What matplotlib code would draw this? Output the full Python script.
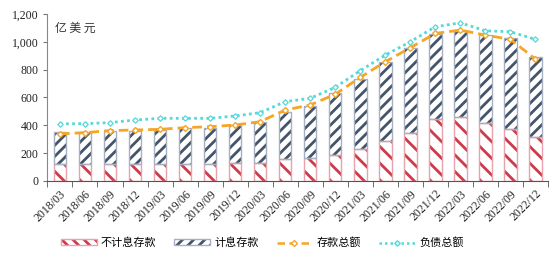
import matplotlib
matplotlib.use('Agg')
from matplotlib import pyplot as plt
from matplotlib.ticker import FuncFormatter, FixedLocator
from matplotlib.patches import Patch
from matplotlib.lines import Line2D
from matplotlib.legend_handler import HandlerTuple
import numpy as np

plt.rcParams['font.family'] = ['Liberation Serif', 'Noto Sans CJK SC']
plt.rcParams['hatch.linewidth'] = 2.0

quarters = ['2018/03', '2018/06', '2018/09', '2018/12', '2019/03', '2019/06', '2019/09', '2019/12',
            '2020/03', '2020/06', '2020/09', '2020/12', '2021/03', '2021/06', '2021/09', '2021/12',
            '2022/03', '2022/06', '2022/09', '2022/12']
# 不计息存款
non_interest = [120, 120, 122, 118, 118, 122, 118, 127, 132, 156,
                168, 187, 228, 287, 343, 446, 462, 415, 374, 316]
# 存款合计(柱高)
bar_total = [350, 350, 359, 359, 366, 378, 383, 402, 426, 498,
             540, 630, 733, 857, 953, 1058, 1080, 1049, 1030, 889]
interest = [t - n for t, n in zip(bar_total, non_interest)]
# 存款总额
deposits = [338, 347, 362, 366, 371, 383, 390, 402, 426, 510,
            546, 623, 745, 857, 958, 1061, 1085, 1049, 1018, 877]
# 负债总额
liabilities = [410, 412, 419, 438, 450, 450, 450, 467, 491, 570,
               594, 673, 793, 905, 1001, 1109, 1137, 1080, 1073, 1018]

red = '#cc3a4c'
navy = '#44546a'
orange = '#f7a524'
cyan = '#55d8d8'
red_edge = '#e9a3ab'
navy_edge = '#a7b0c0'

fig = plt.figure(figsize=(5.58, 2.61), dpi=100)
ax = fig.add_axes([0.085, 0.307, 0.897, 0.639])

x = np.arange(len(quarters))
w = 0.5
# 斜线填充
ax.bar(x, non_interest, width=w, color='white', edgecolor=red, hatch='\\\\', linewidth=0)
ax.bar(x, interest, width=w, bottom=non_interest, color='white', edgecolor=navy, hatch='///', linewidth=0)
# 边框
ax.bar(x, non_interest, width=w, fill=False, edgecolor=red_edge, linewidth=1)
ax.bar(x, interest, width=w, bottom=non_interest, fill=False, edgecolor=navy_edge, linewidth=1)

ax.plot(x, deposits, color=orange, lw=2, ls=(0, (3.5, 1.8)), marker='D', ms=3,
        mfc='white', mec=orange, mew=1.0)
ax.plot(x, liabilities, color=cyan, lw=2, ls=(0, (1, 1.2)), marker='D', ms=2.8,
        mfc='white', mec=cyan, mew=0.9)

ax.set_xlim(-0.5, len(quarters) - 0.5)
ax.set_ylim(0, 1200)
ax.set_yticks(range(0, 1201, 200))
ax.yaxis.set_major_formatter(FuncFormatter(lambda v, p: f'{int(v):,}'))

ax.set_xticks(x)
ax.set_xticklabels(quarters, rotation=45, ha='right', rotation_mode='anchor')
ax.xaxis.set_minor_locator(FixedLocator(np.arange(-0.5, len(quarters), 1)))
ax.tick_params(axis='x', which='major', length=0, pad=5, labelsize=8.5, colors='#222222')
ax.tick_params(axis='x', which='minor', length=4, color='#555555', direction='out')
ax.tick_params(axis='y', length=3, color='#777777', labelsize=8.5, labelcolor='#222222')

for s in ['top', 'right']:
    ax.spines[s].set_visible(False)
ax.spines['left'].set_color('#888888')
ax.spines['bottom'].set_color('#555555')

ax.text(0.015, 0.955, '亿 美 元', transform=ax.transAxes, ha='left', va='top',
        fontsize=8.5, family=['Noto Sans CJK SC'], color='#333333')

handles = [
    (Patch(facecolor='white', edgecolor=red, hatch='\\\\\\', linewidth=0),
     Patch(fill=False, edgecolor=red_edge, linewidth=1)),
    (Patch(facecolor='white', edgecolor=navy, hatch='///', linewidth=0),
     Patch(fill=False, edgecolor=navy_edge, linewidth=1)),
    Line2D([], [], color=orange, lw=1.8, ls=(0, (3, 1.8)), marker='D', ms=3, mfc='white', mec=orange),
    Line2D([], [], color=cyan, lw=1.8, ls=(0, (1, 1.2)), marker='D', ms=2.8, mfc='white', mec=cyan),
]
labels = ['不计息存款', '计息存款', '存款总额', '负债总额']
fig.legend(handles, labels, loc='center', bbox_to_anchor=(0.47, 0.07), ncol=4, frameon=False,
           prop={'family': ['Noto Sans CJK SC'], 'size': 8}, handlelength=3.2, columnspacing=1.6,
           handletextpad=0.4, handleheight=0.5, handler_map={tuple: HandlerTuple(ndivide=1, pad=0)})

plt.savefig('out.png', dpi=100)
